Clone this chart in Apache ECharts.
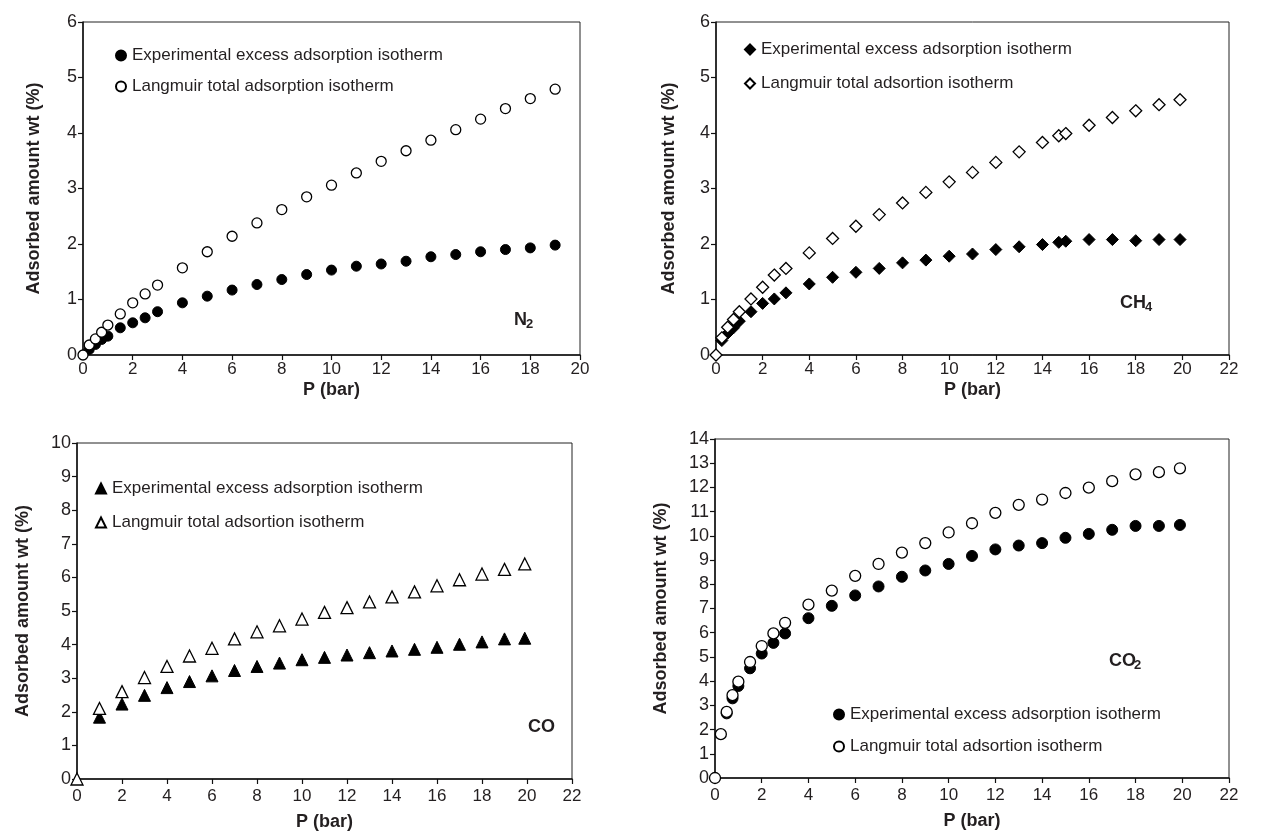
<!DOCTYPE html>
<html style="height: 100%; width: 100%">
<head>
  <meta charset="utf-8" />
  <script src="https://cdn.jsdelivr.net/npm/echarts@6/dist/echarts.min.js"></script>
</head>
<body style="height: 100%; width: 100%; margin: 0; background: #fff;">
  <div id="chart-panel" style="width: 1264px; height: 837px;"></div>
  <script type="text/javascript">
    // N2
    var n2ExpP = [0.25, 0.5, 0.75, 1, 1.5, 2, 2.5, 3, 4, 5, 6, 7, 8, 9, 10, 11, 12, 13, 14, 15, 16, 17, 18, 19];
    var n2ExpW = [0.10, 0.19, 0.28, 0.34, 0.49, 0.58, 0.67, 0.78, 0.94, 1.06, 1.17, 1.27, 1.36, 1.45, 1.53, 1.60, 1.64, 1.69, 1.77, 1.81, 1.86, 1.90, 1.93, 1.98];
    var n2LangP = [0, 0.25, 0.5, 0.75, 1, 1.5, 2, 2.5, 3, 4, 5, 6, 7, 8, 9, 10, 11, 12, 13, 14, 15, 16, 17, 18, 19];
    var n2LangW = [0, 0.18, 0.29, 0.41, 0.54, 0.74, 0.94, 1.10, 1.26, 1.57, 1.86, 2.14, 2.38, 2.62, 2.85, 3.06, 3.28, 3.49, 3.68, 3.87, 4.06, 4.25, 4.44, 4.62, 4.79];
    // CH4
    var ch4ExpP = [0.25, 0.5, 0.75, 1, 1.5, 2, 2.5, 3, 4, 5, 6, 7, 8, 9, 10, 11, 12, 13, 14, 14.7, 15, 16, 17, 18, 19, 19.9];
    var ch4ExpW = [0.26, 0.39, 0.49, 0.61, 0.78, 0.93, 1.01, 1.12, 1.28, 1.40, 1.49, 1.56, 1.66, 1.71, 1.78, 1.82, 1.90, 1.95, 1.99, 2.03, 2.05, 2.08, 2.08, 2.06, 2.08, 2.08];
    var ch4LangP = [0, 0.25, 0.5, 0.75, 1, 1.5, 2, 2.5, 3, 4, 5, 6, 7, 8, 9, 10, 11, 12, 13, 14, 14.7, 15, 16, 17, 18, 19, 19.9];
    var ch4LangW = [0, 0.31, 0.50, 0.64, 0.78, 1.01, 1.22, 1.44, 1.56, 1.84, 2.10, 2.32, 2.53, 2.74, 2.93, 3.12, 3.29, 3.47, 3.66, 3.83, 3.95, 3.99, 4.14, 4.28, 4.40, 4.51, 4.60];
    // CO
    var coExpP = [1, 2, 3, 4, 5, 6, 7, 8, 9, 10, 11, 12, 13, 14, 15, 16, 17, 18, 19, 19.9];
    var coExpW = [1.84, 2.23, 2.49, 2.72, 2.90, 3.07, 3.23, 3.35, 3.45, 3.55, 3.62, 3.69, 3.76, 3.81, 3.86, 3.92, 4.01, 4.08, 4.17, 4.19];
    var coLangP = [0, 1, 2, 3, 4, 5, 6, 7, 8, 9, 10, 11, 12, 13, 14, 15, 16, 17, 18, 19, 19.9];
    var coLangW = [0, 2.10, 2.60, 3.02, 3.35, 3.66, 3.89, 4.17, 4.38, 4.56, 4.76, 4.96, 5.10, 5.27, 5.42, 5.57, 5.75, 5.93, 6.10, 6.24, 6.40];
    // CO2
    var co2ExpP = [0.5, 0.75, 1, 1.5, 2, 2.5, 3, 4, 5, 6, 7, 8, 9, 10, 11, 12, 13, 14, 15, 16, 17, 18, 19, 19.9];
    var co2ExpW = [2.67, 3.29, 3.80, 4.53, 5.14, 5.58, 5.97, 6.60, 7.11, 7.54, 7.91, 8.31, 8.57, 8.84, 9.17, 9.44, 9.60, 9.70, 9.92, 10.08, 10.25, 10.41, 10.41, 10.45];
    var co2LangP = [0, 0.25, 0.5, 0.75, 1, 1.5, 2, 2.5, 3, 4, 5, 6, 7, 8, 9, 10, 11, 12, 13, 14, 15, 16, 17, 18, 19, 19.9];
    var co2LangW = [0, 1.81, 2.73, 3.42, 3.98, 4.79, 5.45, 5.97, 6.41, 7.16, 7.74, 8.35, 8.84, 9.31, 9.70, 10.14, 10.52, 10.95, 11.28, 11.50, 11.77, 11.99, 12.26, 12.54, 12.63, 12.79];

    var yMaxes = [6, 6, 10, 14];
    var xMaxes = [20, 22, 22, 22];
    var legendText = {
      n2Exp: "Experimental excess adsorption isotherm",
      n2Lang: "Langmuir total adsorption isotherm",
      ch4Exp: "Experimental excess adsorption isotherm",
      ch4Lang: "Langmuir total adsortion isotherm",
      coExp: "Experimental excess adsorption isotherm",
      coLang: "Langmuir total adsortion isotherm",
      co2Exp: "Experimental excess adsorption isotherm",
      co2Lang: "Langmuir total adsortion isotherm"
    };

    var textColor = "#231f20";
    var font = "Liberation Sans, Arial, sans-serif";

    function zip(xs, ys) {
      return xs.map(function (x, i) { return [x, ys[i]]; });
    }

    var grids = [
      { left: 83, right: 684, top: 22, bottom: 482 },
      { left: 716, right: 35, top: 22, bottom: 482 },
      { left: 77, right: 692, top: 443, bottom: 58 },
      { left: 715, right: 35, top: 439, bottom: 59 }
    ];
    var yNameGap = [40, 38, 45, 45];
    var xNameGap = [26, 26, 34, 34];
    var xLabelMargin = [6, 6, 9, 9];

    var xAxes = [], yAxes = [];
    for (var i = 0; i < 4; i++) {
      grids[i].show = true;
      grids[i].borderColor = "#222";
      grids[i].borderWidth = 1;
      xAxes.push({
        gridIndex: i, type: "value", min: 0, max: xMaxes[i], interval: 2,
        name: "P (bar)", nameLocation: "middle", nameGap: xNameGap[i],
        nameTextStyle: { fontFamily: font, fontWeight: "bold", fontSize: 18, color: textColor },
        axisLine: { onZero: false, lineStyle: { color: "#111", width: 1.5 } },
        axisTick: { show: true, length: 5, lineStyle: { color: "#111", width: 1.2 } },
        axisLabel: { fontFamily: font, fontSize: 17, color: textColor, margin: xLabelMargin[i] },
        splitLine: { show: false }
      });
      yAxes.push({
        gridIndex: i, type: "value", min: 0, max: yMaxes[i], interval: 1,
        name: "Adsorbed amount wt (%)", nameLocation: "middle", nameGap: yNameGap[i], nameRotate: 90,
        nameTextStyle: { fontFamily: font, fontWeight: "bold", fontSize: 18, color: textColor },
        axisLine: { show: true, onZero: false, lineStyle: { color: "#111", width: 1.5 } },
        axisTick: { show: true, length: 5, lineStyle: { color: "#111", width: 1.2 } },
        axisLabel: { fontFamily: font, fontSize: 18, color: textColor, margin: 6 },
        splitLine: { show: false }
      });
    }

    var filled = { color: "#000", borderColor: "#000", borderWidth: 1, opacity: 1 };
    var open = { color: "#fff", borderColor: "#000", borderWidth: 1.3, opacity: 1 };

    function sc(name, idx, xs, ys, symbol, size, style) {
      return {
        name: name, type: "scatter", xAxisIndex: idx, yAxisIndex: idx,
        data: zip(xs, ys), symbol: symbol, symbolSize: size, itemStyle: style,
        emphasis: { disabled: true }
      };
    }

    var series = [
      sc("n2Exp", 0, n2ExpP, n2ExpW, "circle", 10, filled),
      sc("n2Lang", 0, n2LangP, n2LangW, "circle", 10, open),
      sc("ch4Exp", 1, ch4ExpP, ch4ExpW, "diamond", 12, filled),
      sc("ch4Lang", 1, ch4LangP, ch4LangW, "diamond", 12, open),
      sc("coExp", 2, coExpP, coExpW, "triangle", 12, filled),
      sc("coLang", 2, coLangP, coLangW, "triangle", 12, open),
      sc("co2Exp", 3, co2ExpP, co2ExpW, "circle", 11, filled),
      sc("co2Lang", 3, co2LangP, co2LangW, "circle", 11, open)
    ];

    function legend(names, left, top, gap) {
      return {
        data: names, left: left, top: top, orient: "vertical", itemGap: gap,
        itemWidth: 10, itemHeight: 10, selectedMode: false,
        formatter: function (n) { return legendText[n]; },
        textStyle: { fontFamily: font, fontSize: 17, color: textColor, padding: [0, 0, 0, 1] }
      };
    }

    function gasLabel(x, y, main, sub) {
      return {
        type: "group", left: x, top: y,
        children: [
          { type: "text", left: 0, top: 0, style: { text: main, font: "bold 18px " + font, fill: textColor } },
          { type: "text", left: main.length * 13 - 1, top: 7, style: { text: sub, font: "bold 13px " + font, fill: textColor } }
        ]
      };
    }

    var option = {
      animation: false,
      backgroundColor: "#fff",
      grid: grids,
      xAxis: xAxes,
      yAxis: yAxes,
      legend: [
        legend(["n2Exp", "n2Lang"], 110, 42, 14),
        legend(["ch4Exp", "ch4Lang"], 739, 36, 17),
        legend(["coExp", "coLang"], 90, 475, 17),
        legend(["co2Exp", "co2Lang"], 828, 701, 15)
      ],
      graphic: [
        gasLabel(514, 311, "N", "2"),
        gasLabel(1120, 294, "CH", "4"),
        { type: "text", left: 528, top: 718, style: { text: "CO", font: "bold 18px " + font, fill: textColor } },
        gasLabel(1109, 652, "CO", "2")
      ],
      series: series
    };

    var myChart = echarts.init(document.getElementById("chart-panel"));
    myChart.setOption(option);
  </script>
</body>
</html>
